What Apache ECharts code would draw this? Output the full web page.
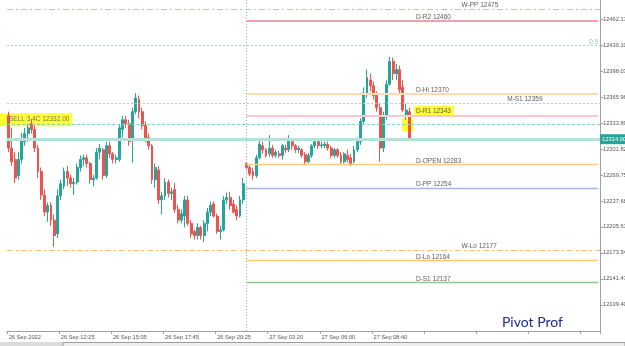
<!DOCTYPE html>
<html><head><meta charset="utf-8">
<script src="https://cdn.jsdelivr.net/npm/echarts@6/dist/echarts.min.js"></script>
<style>html,body{margin:0;padding:0;background:#fff}#c{width:625px;height:346px}</style>
</head><body><div id="c"></div>
<script>
// ---- data ----
// [open, close, low, high]
const ohlc = [
[12343,12303,12298,12348],[12303,12286,12281,12328],[12289,12266,12260,12298],[12269,12289,12264,12298],
[12289,12313,12284,12322],[12311,12321,12306,12328],[12321,12328,12311,12333],[12333,12326,12321,12339],
[12326,12303,12298,12331],[12303,12274,12266,12307],[12274,12245,12239,12279],[12245,12224,12219,12252],
[12224,12232,12212,12236],[12232,12214,12207,12236],[12214,12195,12181,12221],[12197,12244,12192,12252],
[12244,12259,12239,12264],[12256,12274,12252,12279],[12274,12266,12256,12281],[12266,12259,12254,12270],
[12259,12261,12245,12266],[12261,12279,12258,12284],[12279,12289,12274,12294],[12289,12291,12281,12295],
[12291,12284,12279,12295],[12284,12264,12259,12286],[12264,12266,12256,12270],[12266,12298,12264,12303],
[12298,12303,12289,12308],[12301,12269,12264,12303],[12269,12306,12266,12311],[12306,12296,12291,12311],
[12296,12289,12284,12298],[12289,12291,12284,12295],[12289,12328,12286,12333],[12326,12338,12316,12343],
[12338,12333,12328,12343],[12333,12311,12306,12338],[12313,12348,12285,12353],[12348,12365,12345,12371],
[12363,12348,12340,12368],[12348,12331,12326,12353],[12331,12313,12310,12336],[12316,12306,12301,12321],
[12306,12264,12259,12308],[12264,12279,12254,12284],[12276,12239,12234,12281],[12239,12244,12221,12249],
[12244,12261,12239,12266],[12261,12247,12242,12264],[12247,12249,12239,12254],[12252,12227,12223,12260],
[12227,12214,12210,12233],[12214,12222,12210,12227],[12219,12239,12205,12244],[12239,12210,12207,12244],
[12210,12197,12192,12214],[12200,12195,12190,12202],[12195,12205,12190,12210],[12205,12195,12190,12207],
[12195,12210,12187,12214],[12210,12224,12200,12229],[12224,12232,12219,12237],[12234,12219,12217,12237],
[12219,12200,12197,12222],[12200,12202,12190,12207],[12202,12239,12200,12244],[12239,12242,12234,12248],
[12242,12232,12227,12249],[12234,12224,12222,12239],[12227,12219,12214,12232],[12219,12239,12217,12244],
[12239,12259,12234,12266],
[12284,12279,12276,12286],[12279,12271,12268,12282],[12274,12269,12264,12279],[12269,12291,12266,12295],
[12291,12308,12289,12313],[12306,12301,12296,12311],[12301,12294,12291,12303],[12296,12303,12292,12319],
[12303,12294,12291,12307],[12294,12298,12291,12301],[12296,12294,12291,12300],[12294,12306,12289,12308],
[12303,12301,12297,12307],[12301,12313,12298,12319],[12311,12306,12301,12313],[12306,12301,12297,12308],
[12301,12303,12297,12306],[12301,12294,12291,12303],[12295,12286,12282,12298],[12286,12294,12284,12297],
[12294,12306,12291,12308],[12306,12311,12303,12315],[12311,12306,12302,12313],[12306,12307,12303,12311],
[12306,12308,12303,12311],[12308,12303,12300,12311],[12303,12294,12291,12306],[12294,12301,12291,12303],
[12301,12294,12291,12303],[12294,12286,12282,12298],[12286,12296,12284,12298],[12294,12289,12285,12301],
[12291,12284,12281,12296],[12286,12301,12284,12306],[12301,12311,12298,12316],[12311,12336,12307,12340],
[12336,12369,12333,12378],[12369,12390,12365,12400],[12387,12380,12373,12395],[12380,12368,12363,12385],
[12368,12353,12348,12373],[12353,12303,12286,12358],[12303,12343,12298,12348],[12343,12382,12338,12387],
[12382,12410,12380,12416],[12410,12395,12387,12415],[12395,12400,12387,12407],[12400,12375,12370,12405],
[12378,12350,12348,12387],[12343,12350,12338,12358],[12348,12314,12313,12353]
];
const slotCount = 182;          // bar slots visible on the chart (incl. empty right shift)
const dayStartIndex = 73;       // first bar of 27 Sep
const timeTicks = ['26 Sep 2022','26 Sep 12:25','26 Sep 15:05','26 Sep 17:45','26 Sep 20:25','27 Sep 03:20','27 Sep 06:00','27 Sep 08:40'];
const yTicks = [12109.40,12141.47,12173.54,12205.61,12237.68,12269.75,12301.82,12333.89,12365.96,12398.03,12430.10,12462.17];
const dailyNames  = ['D-R2','D-Hi','D-R1','D-OPEN','D-PP','D-Lo','D-S1'];
const dailyValues = [12460,12370,12343,12283,12254,12164,12137];
const weeklyNames  = ['W-PP','W-Lo'];
const weeklyValues = [12475,12177];
const monthlyNames  = ['M-S1'];
const monthlyValues = [12359];
const fibName = '0.0';
const fibValue = 12430;
const orderText = 'SELL 3.4C 12332.00';
const orderPrice = 12332;
const lastPrice = 12314.00;
const brand = 'Pivot Prof';

// ---- styles ----
const FONT = 'Liberation Sans';
const dailyStyle = {
  'D-R2':{color:'#ec7f93',width:1.5},
  'D-Hi':{color:'#ffdab4',width:2.2},
  'D-R1':{color:'#f8c8d0',width:2.2},
  'D-OPEN':{color:'#ffca84',width:1.4},
  'D-PP':{color:'#a8b3f2',width:1.4},
  'D-Lo':{color:'#ffc86c',width:1.4},
  'D-S1':{color:'#8cc98e',width:1.4}
};
const weeklyStyle = {
  'W-PP':{color:'#b6bcf4',width:1,type:[6,3,2,3]},
  'W-Lo':{color:'#ffbe6a',width:1,type:[6,3,2,3]}
};
const monthlyStyle = {'M-S1':{color:'#a9d8aa',width:1,type:[2,2]}};

const cats = Array.from({length: slotCount}, (_, i) => 'b' + i);
const lastSlot = slotCount - 1;

const markData = [];
dailyNames.forEach((n, i) => {
  markData.push([{coord:[dayStartIndex, dailyValues[i]], lineStyle:Object.assign({type:'solid'}, dailyStyle[n])},
                 {coord:[lastSlot, dailyValues[i]]}]);
});
weeklyNames.forEach((n, i) => markData.push({yAxis: weeklyValues[i], lineStyle: weeklyStyle[n]}));
monthlyNames.forEach((n, i) => markData.push({yAxis: monthlyValues[i], lineStyle: monthlyStyle[n]}));
markData.push({yAxis: fibValue, lineStyle:{color:'#a9d8aa', width:1, type:[2,2]}});
markData.push({yAxis: orderPrice, lineStyle:{color:'#86cfc6', width:1, type:[3,2]}});
markData.push({yAxis: lastPrice, lineStyle:{color:'#b6e1db', width:3, type:'solid'},
  label:{show:true, position:'end', distance:0, formatter: lastPrice.toFixed(2),
    backgroundColor:'#26a69a', color:'#fff', fontSize:5.8, fontFamily:FONT, padding:[2,3,2,2]}});
markData.push({xAxis: dayStartIndex, lineStyle:{color:'#a6a6a6', width:1, type:[1,2]}});

const baseLbl = {show:true, position:'inside', align:'left', verticalAlign:'bottom', color:'#333',
                 fontSize:6.5, fontFamily:FONT, offset:[0,0]};
const labelData = [];
dailyNames.forEach((n, i) => {
  const lab = Object.assign({}, baseLbl, {formatter: n + ' ' + dailyValues[i]});
  if (n === 'D-R1') Object.assign(lab, {backgroundColor:'#ffff00', padding:[2,3,2,2], offset:[-2,1]});
  labelData.push({value:[125, dailyValues[i]], label: lab});
});
weeklyNames.forEach((n, i) => labelData.push({value:[139, weeklyValues[i]], label:Object.assign({}, baseLbl, {formatter: n + ' ' + weeklyValues[i]})}));
monthlyNames.forEach((n, i) => labelData.push({value:[153, monthlyValues[i]], label:Object.assign({}, baseLbl, {formatter: n + ' ' + monthlyValues[i]})}));
labelData.push({value:[lastSlot, fibValue], label:Object.assign({}, baseLbl, {formatter: fibName, align:'right', color:'#7fae7f'})});
labelData.push({value:[0, orderPrice], label:Object.assign({}, baseLbl, {formatter: orderText, verticalAlign:'middle',
  backgroundColor:'#ffff00', padding:[3,0,3,9], width:63, offset:[-8.6,-5], color:'#555'})});

const chart = echarts.init(document.getElementById('c'), null, {renderer:'canvas'});
chart.setOption({
  animation:false,
  backgroundColor:'#ffffff',
  grid:{left:7, right:25, top:0, bottom:15, containLabel:false, outerBoundsMode:'none'},
  xAxis:{type:'category', data:cats, boundaryGap:true,
    axisLine:{show:true, lineStyle:{color:'#a0a0a0', width:1}},
    axisTick:{show:true, interval:15, length:3, lineStyle:{color:'#a0a0a0'}},
    axisLabel:{interval:15, align:'left', margin:3, fontSize:5.7, color:'#555', fontFamily:FONT,
      formatter:(v, i) => timeTicks[i / 16] || ''},
    splitLine:{show:false}},
  yAxis:{type:'value', position:'right', min:12077.0, max:12486.0, scale:true,
    axisLine:{show:true, lineStyle:{color:'#a0a0a0', width:1}},
    axisTick:{show:true, length:3, customValues:yTicks, lineStyle:{color:'#a0a0a0'}},
    axisLabel:{customValues:yTicks, margin:3, fontSize:5.7, color:'#555', fontFamily:FONT,
      formatter:v => Number(v).toFixed(2)},
    splitLine:{show:false}},
  series:[
    {type:'scatter', z:1, clip:false, data:[[122, orderPrice]], symbol:'rect', symbolSize:[11,13],
     symbolOffset:[1.5,0], itemStyle:{color:'#ffff00'}, silent:true},
    {type:'scatter', z:1, clip:false, data:labelData, symbolSize:1, itemStyle:{color:'rgba(0,0,0,0)'}, silent:true},
    {type:'candlestick', z:2, data:ohlc, barWidth:2.4,
     itemStyle:{color:'#26a69a', color0:'#ef5350', borderColor:'#26a69a', borderColor0:'#ef5350', borderWidth:1},
     markLine:{silent:true, symbol:['none','none'], label:{show:false}, data:markData}}
  ],
  graphic:[
    {type:'text', left:502, top:315, style:{text:brand, fill:'#1f2a8f', font:'14px Lato'}},
    {type:'rect', shape:{x:0, y:342, width:625, height:4}, style:{fill:'#dcdcdc'}},
    {type:'rect', shape:{x:63, y:342.5, width:562, height:4}, style:{fill:'#eeeeee', stroke:'#9c9c9c', lineWidth:1}}
  ]
});
</script></body></html>
